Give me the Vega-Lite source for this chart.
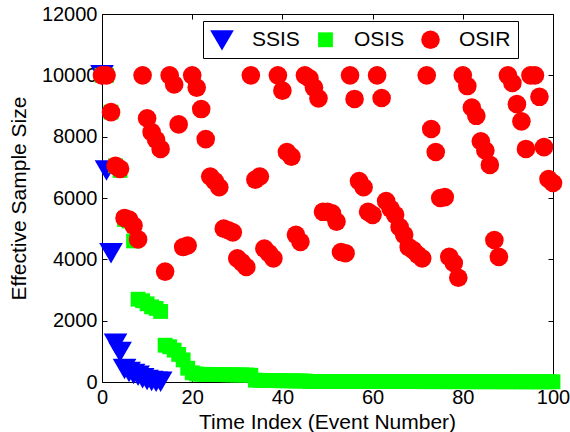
{
  "$schema": "https://vega.github.io/schema/vega-lite/v6.json",
  "width": 451,
  "height": 368,
  "autosize": "none",
  "padding": {"left": 102, "top": 14, "right": 17, "bottom": 50},
  "background": "white",
  "config": {
    "view": {"stroke": "black", "strokeWidth": 1},
    "font": "Liberation Sans",
    "axis": {"labelFont": "Liberation Sans", "titleFont": "Liberation Sans", "labelColor": "black", "titleColor": "black", "titleFontWeight": "normal", "domainColor": "black", "tickColor": "black", "grid": false}
  },
  "data": {"values": [
    {"t": 0, "ess": 10000, "series": "SSIS"},
    {"t": 1, "ess": 6900, "series": "SSIS"},
    {"t": 2, "ess": 4200, "series": "SSIS"},
    {"t": 3, "ess": 1250, "series": "SSIS"},
    {"t": 4, "ess": 980, "series": "SSIS"},
    {"t": 5, "ess": 420, "series": "SSIS"},
    {"t": 6, "ess": 330, "series": "SSIS"},
    {"t": 7, "ess": 260, "series": "SSIS"},
    {"t": 8, "ess": 200, "series": "SSIS"},
    {"t": 9, "ess": 120, "series": "SSIS"},
    {"t": 10, "ess": 65, "series": "SSIS"},
    {"t": 11, "ess": 30, "series": "SSIS"},
    {"t": 12, "ess": 10, "series": "SSIS"},
    {"t": 13, "ess": 5, "series": "SSIS"},

    {"t": 0, "ess": 10000, "series": "OSIS"},
    {"t": 1, "ess": 10000, "series": "OSIS"},
    {"t": 2, "ess": 8800, "series": "OSIS"},
    {"t": 3, "ess": 7050, "series": "OSIS"},
    {"t": 4, "ess": 6900, "series": "OSIS"},
    {"t": 5, "ess": 5300, "series": "OSIS"},
    {"t": 6, "ess": 5250, "series": "OSIS"},
    {"t": 7, "ess": 4600, "series": "OSIS"},
    {"t": 8, "ess": 2700, "series": "OSIS"},
    {"t": 9, "ess": 2650, "series": "OSIS"},
    {"t": 10, "ess": 2550, "series": "OSIS"},
    {"t": 11, "ess": 2450, "series": "OSIS"},
    {"t": 12, "ess": 2400, "series": "OSIS"},
    {"t": 13, "ess": 2300, "series": "OSIS"},
    {"t": 14, "ess": 1200, "series": "OSIS"},
    {"t": 15, "ess": 1150, "series": "OSIS"},
    {"t": 16, "ess": 1040, "series": "OSIS"},
    {"t": 17, "ess": 900, "series": "OSIS"},
    {"t": 18, "ess": 720, "series": "OSIS"},
    {"t": 19, "ess": 450, "series": "OSIS"},
    {"t": 20, "ess": 300, "series": "OSIS"},
    {"t": 21, "ess": 260, "series": "OSIS"},
    {"t": 22, "ess": 250, "series": "OSIS"},
    {"t": 23, "ess": 250, "series": "OSIS"},
    {"t": 24, "ess": 245, "series": "OSIS"},
    {"t": 25, "ess": 245, "series": "OSIS"},
    {"t": 26, "ess": 240, "series": "OSIS"},
    {"t": 27, "ess": 240, "series": "OSIS"},
    {"t": 28, "ess": 235, "series": "OSIS"},
    {"t": 29, "ess": 235, "series": "OSIS"},
    {"t": 30, "ess": 230, "series": "OSIS"},
    {"t": 31, "ess": 230, "series": "OSIS"},
    {"t": 32, "ess": 230, "series": "OSIS"},
    {"t": 33, "ess": 220, "series": "OSIS"},
    {"t": 34, "ess": 60, "series": "OSIS"},
    {"t": 35, "ess": 55, "series": "OSIS"},
    {"t": 36, "ess": 50, "series": "OSIS"},
    {"t": 37, "ess": 50, "series": "OSIS"},
    {"t": 38, "ess": 45, "series": "OSIS"},
    {"t": 39, "ess": 45, "series": "OSIS"},
    {"t": 40, "ess": 40, "series": "OSIS"},
    {"t": 41, "ess": 40, "series": "OSIS"},
    {"t": 42, "ess": 38, "series": "OSIS"},
    {"t": 43, "ess": 36, "series": "OSIS"},
    {"t": 44, "ess": 34, "series": "OSIS"},
    {"t": 45, "ess": 32, "series": "OSIS"},
    {"t": 46, "ess": 20, "series": "OSIS"},
    {"t": 47, "ess": 20, "series": "OSIS"},
    {"t": 48, "ess": 19, "series": "OSIS"},
    {"t": 49, "ess": 19, "series": "OSIS"},
    {"t": 50, "ess": 18, "series": "OSIS"},
    {"t": 51, "ess": 18, "series": "OSIS"},
    {"t": 52, "ess": 18, "series": "OSIS"},
    {"t": 53, "ess": 17, "series": "OSIS"},
    {"t": 54, "ess": 17, "series": "OSIS"},
    {"t": 55, "ess": 17, "series": "OSIS"},
    {"t": 56, "ess": 16, "series": "OSIS"},
    {"t": 57, "ess": 16, "series": "OSIS"},
    {"t": 58, "ess": 16, "series": "OSIS"},
    {"t": 59, "ess": 15, "series": "OSIS"},
    {"t": 60, "ess": 15, "series": "OSIS"},
    {"t": 61, "ess": 15, "series": "OSIS"},
    {"t": 62, "ess": 15, "series": "OSIS"},
    {"t": 63, "ess": 14, "series": "OSIS"},
    {"t": 64, "ess": 14, "series": "OSIS"},
    {"t": 65, "ess": 14, "series": "OSIS"},
    {"t": 66, "ess": 14, "series": "OSIS"},
    {"t": 67, "ess": 13, "series": "OSIS"},
    {"t": 68, "ess": 13, "series": "OSIS"},
    {"t": 69, "ess": 13, "series": "OSIS"},
    {"t": 70, "ess": 13, "series": "OSIS"},
    {"t": 71, "ess": 12, "series": "OSIS"},
    {"t": 72, "ess": 12, "series": "OSIS"},
    {"t": 73, "ess": 12, "series": "OSIS"},
    {"t": 74, "ess": 12, "series": "OSIS"},
    {"t": 75, "ess": 12, "series": "OSIS"},
    {"t": 76, "ess": 11, "series": "OSIS"},
    {"t": 77, "ess": 11, "series": "OSIS"},
    {"t": 78, "ess": 11, "series": "OSIS"},
    {"t": 79, "ess": 11, "series": "OSIS"},
    {"t": 80, "ess": 11, "series": "OSIS"},
    {"t": 81, "ess": 10, "series": "OSIS"},
    {"t": 82, "ess": 10, "series": "OSIS"},
    {"t": 83, "ess": 10, "series": "OSIS"},
    {"t": 84, "ess": 10, "series": "OSIS"},
    {"t": 85, "ess": 10, "series": "OSIS"},
    {"t": 86, "ess": 10, "series": "OSIS"},
    {"t": 87, "ess": 9, "series": "OSIS"},
    {"t": 88, "ess": 9, "series": "OSIS"},
    {"t": 89, "ess": 9, "series": "OSIS"},
    {"t": 90, "ess": 9, "series": "OSIS"},
    {"t": 91, "ess": 9, "series": "OSIS"},
    {"t": 92, "ess": 9, "series": "OSIS"},
    {"t": 93, "ess": 8, "series": "OSIS"},
    {"t": 94, "ess": 8, "series": "OSIS"},
    {"t": 95, "ess": 8, "series": "OSIS"},
    {"t": 96, "ess": 8, "series": "OSIS"},
    {"t": 97, "ess": 8, "series": "OSIS"},
    {"t": 98, "ess": 8, "series": "OSIS"},
    {"t": 99, "ess": 8, "series": "OSIS"},
    {"t": 100, "ess": 8, "series": "OSIS"},

    {"t": 0, "ess": 10000, "series": "OSIR"},
    {"t": 1, "ess": 10000, "series": "OSIR"},
    {"t": 2, "ess": 8800, "series": "OSIR"},
    {"t": 3, "ess": 7050, "series": "OSIR"},
    {"t": 4, "ess": 6950, "series": "OSIR"},
    {"t": 5, "ess": 5350, "series": "OSIR"},
    {"t": 6, "ess": 5300, "series": "OSIR"},
    {"t": 7, "ess": 5100, "series": "OSIR"},
    {"t": 8, "ess": 4650, "series": "OSIR"},
    {"t": 9, "ess": 10000, "series": "OSIR"},
    {"t": 10, "ess": 8600, "series": "OSIR"},
    {"t": 11, "ess": 8150, "series": "OSIR"},
    {"t": 12, "ess": 7900, "series": "OSIR"},
    {"t": 13, "ess": 7600, "series": "OSIR"},
    {"t": 14, "ess": 3600, "series": "OSIR"},
    {"t": 15, "ess": 10000, "series": "OSIR"},
    {"t": 16, "ess": 9700, "series": "OSIR"},
    {"t": 17, "ess": 8400, "series": "OSIR"},
    {"t": 18, "ess": 4400, "series": "OSIR"},
    {"t": 19, "ess": 4450, "series": "OSIR"},
    {"t": 20, "ess": 10000, "series": "OSIR"},
    {"t": 21, "ess": 9600, "series": "OSIR"},
    {"t": 22, "ess": 8900, "series": "OSIR"},
    {"t": 23, "ess": 7920, "series": "OSIR"},
    {"t": 24, "ess": 6700, "series": "OSIR"},
    {"t": 25, "ess": 6550, "series": "OSIR"},
    {"t": 26, "ess": 6350, "series": "OSIR"},
    {"t": 27, "ess": 5000, "series": "OSIR"},
    {"t": 28, "ess": 4950, "series": "OSIR"},
    {"t": 29, "ess": 4880, "series": "OSIR"},
    {"t": 30, "ess": 4030, "series": "OSIR"},
    {"t": 31, "ess": 3900, "series": "OSIR"},
    {"t": 32, "ess": 3750, "series": "OSIR"},
    {"t": 33, "ess": 10000, "series": "OSIR"},
    {"t": 34, "ess": 6600, "series": "OSIR"},
    {"t": 35, "ess": 6700, "series": "OSIR"},
    {"t": 36, "ess": 4350, "series": "OSIR"},
    {"t": 37, "ess": 4200, "series": "OSIR"},
    {"t": 38, "ess": 4030, "series": "OSIR"},
    {"t": 39, "ess": 10000, "series": "OSIR"},
    {"t": 40, "ess": 9500, "series": "OSIR"},
    {"t": 41, "ess": 7500, "series": "OSIR"},
    {"t": 42, "ess": 7350, "series": "OSIR"},
    {"t": 43, "ess": 4800, "series": "OSIR"},
    {"t": 44, "ess": 4570, "series": "OSIR"},
    {"t": 45, "ess": 10000, "series": "OSIR"},
    {"t": 46, "ess": 9900, "series": "OSIR"},
    {"t": 47, "ess": 9600, "series": "OSIR"},
    {"t": 48, "ess": 9250, "series": "OSIR"},
    {"t": 49, "ess": 5550, "series": "OSIR"},
    {"t": 50, "ess": 5550, "series": "OSIR"},
    {"t": 51, "ess": 5500, "series": "OSIR"},
    {"t": 52, "ess": 5230, "series": "OSIR"},
    {"t": 53, "ess": 4240, "series": "OSIR"},
    {"t": 54, "ess": 4200, "series": "OSIR"},
    {"t": 55, "ess": 10000, "series": "OSIR"},
    {"t": 56, "ess": 9230, "series": "OSIR"},
    {"t": 57, "ess": 6550, "series": "OSIR"},
    {"t": 58, "ess": 6350, "series": "OSIR"},
    {"t": 59, "ess": 5550, "series": "OSIR"},
    {"t": 60, "ess": 5450, "series": "OSIR"},
    {"t": 61, "ess": 10000, "series": "OSIR"},
    {"t": 62, "ess": 9260, "series": "OSIR"},
    {"t": 63, "ess": 5900, "series": "OSIR"},
    {"t": 64, "ess": 5650, "series": "OSIR"},
    {"t": 65, "ess": 5450, "series": "OSIR"},
    {"t": 66, "ess": 5050, "series": "OSIR"},
    {"t": 67, "ess": 4800, "series": "OSIR"},
    {"t": 68, "ess": 4400, "series": "OSIR"},
    {"t": 69, "ess": 4300, "series": "OSIR"},
    {"t": 70, "ess": 4150, "series": "OSIR"},
    {"t": 71, "ess": 4030, "series": "OSIR"},
    {"t": 72, "ess": 10000, "series": "OSIR"},
    {"t": 73, "ess": 8250, "series": "OSIR"},
    {"t": 74, "ess": 7500, "series": "OSIR"},
    {"t": 75, "ess": 6000, "series": "OSIR"},
    {"t": 76, "ess": 6030, "series": "OSIR"},
    {"t": 77, "ess": 4080, "series": "OSIR"},
    {"t": 78, "ess": 3880, "series": "OSIR"},
    {"t": 79, "ess": 3400, "series": "OSIR"},
    {"t": 80, "ess": 10000, "series": "OSIR"},
    {"t": 81, "ess": 9650, "series": "OSIR"},
    {"t": 82, "ess": 8950, "series": "OSIR"},
    {"t": 83, "ess": 8680, "series": "OSIR"},
    {"t": 84, "ess": 7850, "series": "OSIR"},
    {"t": 85, "ess": 7550, "series": "OSIR"},
    {"t": 86, "ess": 7080, "series": "OSIR"},
    {"t": 87, "ess": 4630, "series": "OSIR"},
    {"t": 88, "ess": 4080, "series": "OSIR"},
    {"t": 90, "ess": 10000, "series": "OSIR"},
    {"t": 91, "ess": 9750, "series": "OSIR"},
    {"t": 92, "ess": 9060, "series": "OSIR"},
    {"t": 93, "ess": 8500, "series": "OSIR"},
    {"t": 94, "ess": 7600, "series": "OSIR"},
    {"t": 95, "ess": 10000, "series": "OSIR"},
    {"t": 96, "ess": 10000, "series": "OSIR"},
    {"t": 97, "ess": 9300, "series": "OSIR"},
    {"t": 98, "ess": 7660, "series": "OSIR"},
    {"t": 99, "ess": 6620, "series": "OSIR"},
    {"t": 100, "ess": 6490, "series": "OSIR"}
  ]},
  "layer": [
    {
      "mark": {"type": "point", "filled": true, "opacity": 1, "strokeWidth": 0},
      "encoding": {
        "x": {"field": "t", "type": "quantitative", "scale": {"domain": [0, 100], "nice": false, "zero": false},
              "axis": {"values": [0, 20, 40, 60, 80, 100], "title": "Time Index (Event Number)", "labelFontSize": 20, "titleFontSize": 21, "tickSize": -5, "labelPadding": 10, "labelFlush": false, "labelOverlap": false, "domain": false, "titleX": 225, "titleY": 46, "titleBaseline": "alphabetic"}},
        "y": {"field": "ess", "type": "quantitative", "scale": {"domain": [0, 12000], "nice": false},
              "axis": {"values": [0, 2000, 4000, 6000, 8000, 10000, 12000], "format": "d", "title": "Effective Sample Size", "labelFontSize": 20, "titleFontSize": 21, "tickSize": -5, "labelPadding": 10, "labelFlush": false, "labelOverlap": false, "domain": false, "titleX": -77, "titleY": 184, "titleBaseline": "alphabetic", "titleAngle": -90}},
        "color": {"field": "series", "type": "nominal", "scale": {"domain": ["SSIS", "OSIS", "OSIR"], "range": ["#0000ff", "#00ff00", "#ff0000"]},
                  "legend": {"title": null, "orient": "none", "legendX": 101, "legendY": 7, "direction": "horizontal", "strokeColor": "black", "fillColor": "white", "padding": 7, "labelFontSize": 21, "labelFont": "Liberation Sans", "labelColor": "black", "labelOffset": 18, "columnPadding": 15, "symbolStrokeWidth": 0, "cornerRadius": 0}},
        "shape": {"field": "series", "type": "nominal", "scale": {"domain": ["SSIS", "OSIS", "OSIR"], "range": ["triangle-down", "square", "circle"]}},
        "size": {"field": "series", "type": "nominal", "scale": {"type": "ordinal", "domain": ["SSIS", "OSIS", "OSIR"], "range": [560, 220, 346]}}
      }
    },
    {
      "mark": {"type": "point", "opacity": 0},
      "encoding": {
        "x": {"field": "t", "type": "quantitative", "axis": {"orient": "top", "values": [0, 20, 40, 60, 80, 100], "labels": false, "title": null, "tickSize": -5, "domain": false}},
        "y": {"field": "ess", "type": "quantitative", "axis": {"orient": "right", "values": [0, 2000, 4000, 6000, 8000, 10000, 12000], "labels": false, "title": null, "tickSize": -5, "domain": false}}
      }
    }
  ],
  "resolve": {"axis": {"x": "independent", "y": "independent"}}
}
